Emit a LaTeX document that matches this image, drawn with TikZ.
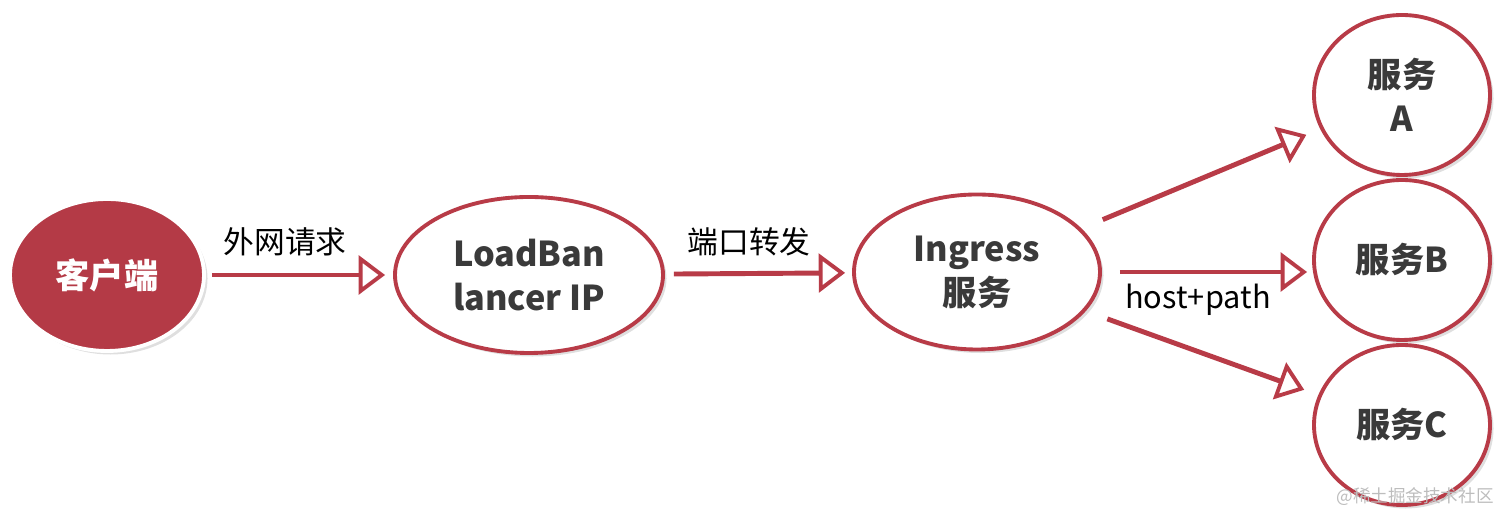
\documentclass[tikz,border=0pt]{standalone}
\usepackage{fontspec}
\setmainfont{Noto Sans CJK SC}
\usepackage{tikz}
\usetikzlibrary{arrows.meta,shapes.geometric,shadows}
\definecolor{svcred}{HTML}{B83B47}
\definecolor{clientfill}{HTML}{B43A46}
\definecolor{textdark}{HTML}{3A3A3A}
\definecolor{markgrey}{HTML}{BDBDBD}

\begin{document}
\begin{tikzpicture}[
  bubble/.style={ellipse, draw=svcred, line width=2.2pt, fill=white,
                 inner sep=0pt, align=center, text=textdark,
                 font=\fontsize{19.5}{25}\selectfont\bfseries,
                 drop shadow={opacity=0.25, shadow xshift=2pt, shadow yshift=-2pt}},
  client/.style={bubble, fill=clientfill, draw=white, text=white},
  flow/.style={draw=svcred, line width=2.8pt,
               -{Triangle[fill=white, length=15pt, width=22pt, line width=2.2pt]}},
  note/.style={font=\fontsize{17.5}{20}\selectfont, text=black},
]
\useasboundingbox (0,0) rectangle (30.24,10.46);

\node[client, minimum width=3.88cm, minimum height=3.04cm] (client) at (2.14,4.96) {客户端};
\node[bubble, minimum width=5.36cm, minimum height=3.12cm] (lb) at (10.58,4.96) {LoadBan\\lancer IP};
\node[bubble, minimum width=4.92cm, minimum height=3.10cm] (ingress) at (19.54,5.02) {Ingress\\服务};

\node[bubble, minimum width=3.52cm, minimum height=3.2cm] (svcA) at (28.04,8.56) {服务\\A};
\node[bubble, minimum width=3.52cm, minimum height=3.2cm] (svcB) at (28.04,5.26) {服务B};
\node[bubble, minimum width=3.52cm, minimum height=3.2cm] (svcC) at (28.04,1.96) {服务C};

\draw[flow, shorten <=0.12cm, shorten >=0.16cm] (client) -- (lb);
\draw[flow, shorten <=0.18cm, shorten >=0.14cm] (lb) -- (ingress);

\foreach \s in {svcA,svcC} { \draw[flow, shorten <=0.46cm, shorten >=0.3cm] (ingress) -- (\s); }
\draw[flow, shorten <=0.36cm, shorten >=0.1cm] (ingress.east) -- (ingress.east -| svcB.west);

\node[note] (wan) at (5.70,5.62) {外网请求};
\node[note] (port) at (14.98,5.62) {端口转发};
\node[note] (route) at (23.96,4.46) {host+path};

\node[font=\fontsize{10}{12}\selectfont, text=markgrey] (mark) at (28.3,0.52) {@稀土掘金技术社区};
\end{tikzpicture}
\end{document}
